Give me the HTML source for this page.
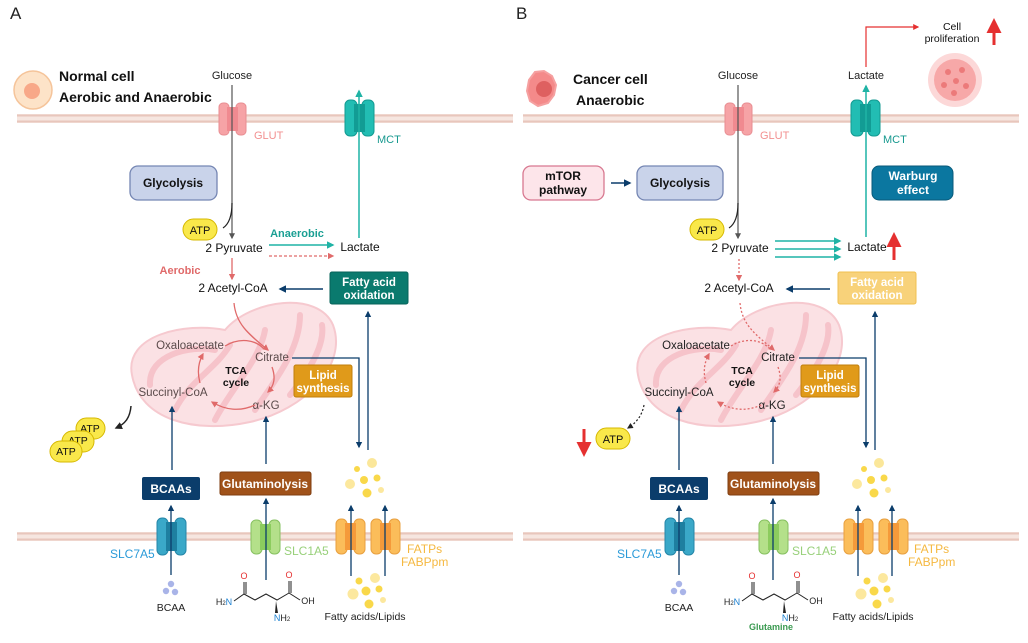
<!DOCTYPE html>
<html><head><meta charset="utf-8"><style>
html,body{margin:0;padding:0;background:#fff;}
svg{display:block;font-family:"Liberation Sans",sans-serif;}
</style></head><body>
<svg width="1028" height="643" viewBox="0 0 1028 643" xmlns="http://www.w3.org/2000/svg">
<defs>
<marker id="aN" viewBox="0 0 10 10" refX="8" refY="5" markerWidth="5" markerHeight="5" orient="auto"><path d="M0,0L10,5L0,10z" fill="#0b3d6b"/></marker>
<marker id="aG" viewBox="0 0 10 10" refX="8" refY="5" markerWidth="5" markerHeight="5" orient="auto"><path d="M0,0L10,5L0,10z" fill="#555"/></marker>
<marker id="aT" viewBox="0 0 10 10" refX="8" refY="5" markerWidth="5" markerHeight="5" orient="auto"><path d="M0,0L10,5L0,10z" fill="#1fb3a5"/></marker>
<marker id="aP" viewBox="0 0 10 10" refX="8" refY="5" markerWidth="5" markerHeight="5" orient="auto"><path d="M0,0L10,5L0,10z" fill="#e06a6a"/></marker>
<marker id="aK" viewBox="0 0 10 10" refX="8" refY="5" markerWidth="5" markerHeight="5" orient="auto"><path d="M0,0L10,5L0,10z" fill="#222"/></marker>
<marker id="aR" viewBox="0 0 10 10" refX="8" refY="5" markerWidth="5" markerHeight="5" orient="auto"><path d="M0,0L10,5L0,10z" fill="#e53030"/></marker>
</defs>

<!-- ================= PANEL A ================= -->
<text x="10" y="19" font-size="17" fill="#222">A</text>
<circle cx="33" cy="90" r="19" fill="#fde3c8" stroke="#f5c49a" stroke-width="1.5"/>
<circle cx="32" cy="91" r="8" fill="#f8a888"/>
<text x="59" y="81" font-size="14" font-weight="bold" fill="#111">Normal cell</text>
<text x="59" y="102" font-size="14" font-weight="bold" fill="#111">Aerobic and Anaerobic</text>
<text x="232" y="79" font-size="11" fill="#222" text-anchor="middle">Glucose</text>
<!-- membrane top -->
<rect x="17" y="114" width="496" height="9" fill="#f6e6e0"/>
<line x1="17" y1="115.5" x2="513" y2="115.5" stroke="#e8c6bc" stroke-width="2"/>
<line x1="17" y1="121.5" x2="513" y2="121.5" stroke="#e8c6bc" stroke-width="2"/>
<!-- GLUT -->
<rect x="219" y="103" width="10" height="32" rx="4" fill="#f6a3a6" stroke="#e88e92"/>
<rect x="236" y="103" width="10" height="32" rx="4" fill="#f6a3a6" stroke="#e88e92"/>
<rect x="227" y="107" width="11" height="24" fill="#f08a90"/>
<text x="254" y="139" font-size="11" fill="#f29090">GLUT</text>
<!-- MCT -->
<rect x="345" y="100" width="12" height="36" rx="5" fill="#22bdb3" stroke="#139a92"/>
<rect x="362" y="100" width="12" height="36" rx="5" fill="#22bdb3" stroke="#139a92"/>
<rect x="354" y="104" width="11" height="28" fill="#129c94"/>
<text x="377" y="143" font-size="11" fill="#17998f">MCT</text>
<line x1="359" y1="238" x2="359" y2="91" stroke="#1fb3a5" stroke-width="1.5" marker-end="url(#aT)"/>
<!-- glucose line -->
<line x1="232" y1="85" x2="232" y2="238" stroke="#555" stroke-width="1.2" marker-end="url(#aG)"/>
<path d="M232,203 Q232,222 223,228" fill="none" stroke="#222" stroke-width="1.2"/>
<rect x="130" y="166" width="87" height="34" rx="8" fill="#c9d3ea" stroke="#7586b3" stroke-width="1.3"/>
<text x="173" y="187" font-size="12" font-weight="bold" fill="#111" text-anchor="middle">Glycolysis</text>
<rect x="183" y="219" width="34" height="21" rx="10.5" fill="#f9e84a" stroke="#d6b800"/>
<text x="200" y="234" font-size="11" fill="#111" text-anchor="middle">ATP</text>
<text x="234" y="252" font-size="12" fill="#111" text-anchor="middle">2 Pyruvate</text>
<text x="297" y="237" font-size="11" font-weight="bold" fill="#1a9f93" text-anchor="middle">Anaerobic</text>
<line x1="269" y1="245" x2="333" y2="245" stroke="#1fb3a5" stroke-width="1.5" marker-end="url(#aT)"/>
<line x1="269" y1="256" x2="333" y2="256" stroke="#e06a6a" stroke-width="1.3" stroke-dasharray="3,2" marker-end="url(#aP)"/>
<text x="360" y="251" font-size="12" fill="#111" text-anchor="middle">Lactate</text>
<text x="180" y="274" font-size="11" font-weight="bold" fill="#e06a6a" text-anchor="middle">Aerobic</text>
<line x1="232" y1="258" x2="232" y2="279" stroke="#e06a6a" stroke-width="1.3" marker-end="url(#aP)"/>
<text x="233" y="292" font-size="12" fill="#111" text-anchor="middle">2 Acetyl-CoA</text>
<line x1="323" y1="289" x2="280" y2="289" stroke="#0b3d6b" stroke-width="1.5" marker-end="url(#aN)"/>
<rect x="330" y="272" width="78" height="32" rx="2" fill="#0a7a6e" stroke="#07635a"/>
<text x="369" y="286" font-size="11.5" font-weight="bold" fill="#fff" text-anchor="middle">Fatty acid</text>
<text x="369" y="299" font-size="11.5" font-weight="bold" fill="#fff" text-anchor="middle">oxidation</text>
<!-- mitochondrion -->
<path d="M132,375 C124,335 185,322 225,330 C250,300 318,290 333,325 C348,365 305,410 250,422 C195,434 140,420 132,375 Z" fill="#fbe1e4" stroke="#f6c9cf" stroke-width="2"/>
<path d="M150,385 C148,355 190,345 215,350 M175,410 C190,380 215,370 230,345 M215,420 C230,390 260,360 265,330 M255,410 C275,380 300,350 300,315 M290,395 C310,370 325,345 322,325" fill="none" stroke="#f6c3ca" stroke-width="6" stroke-linecap="round"/>
<path d="M234,303 C236,325 250,335 268,350" fill="none" stroke="#e06a6a" stroke-width="1.3" marker-end="url(#aP)"/>
<text x="190" y="349" font-size="11.5" fill="#664" text-anchor="middle" style="fill:#5a4a4a">Oxaloacetate</text>
<text x="272" y="361" font-size="11.5" fill="#5a4a4a" text-anchor="middle">Citrate</text>
<text x="236" y="374" font-size="10.5" font-weight="bold" fill="#111" text-anchor="middle">TCA</text>
<text x="236" y="386" font-size="10.5" font-weight="bold" fill="#111" text-anchor="middle">cycle</text>
<text x="173" y="396" font-size="11.5" fill="#5a4a4a" text-anchor="middle">Succinyl-CoA</text>
<text x="266" y="409" font-size="11.5" fill="#5a4a4a" text-anchor="middle">α-KG</text>
<path d="M272,367 C276,378 274,386 268,392" fill="none" stroke="#e06a6a" stroke-width="1.3" marker-end="url(#aP)"/>
<path d="M255,405 C240,412 225,410 212,402" fill="none" stroke="#e06a6a" stroke-width="1.3" marker-end="url(#aP)"/>
<path d="M200,383 C197,372 198,363 203,354" fill="none" stroke="#e06a6a" stroke-width="1.3" marker-end="url(#aP)"/>
<path d="M225,346 C240,337 255,340 263,348" fill="none" stroke="#e06a6a" stroke-width="1.3"/>
<rect x="294" y="365" width="58" height="32" rx="2" fill="#e09a1a" stroke="#c07f0c"/>
<text x="323" y="379" font-size="11.5" font-weight="bold" fill="#fff" text-anchor="middle">Lipid</text>
<text x="323" y="392" font-size="11.5" font-weight="bold" fill="#fff" text-anchor="middle">synthesis</text>
<polyline points="292,358 359,358 359,447" fill="none" stroke="#0b3d6b" stroke-width="1.3" marker-end="url(#aN)"/>
<line x1="368" y1="450" x2="368" y2="312" stroke="#0b3d6b" stroke-width="1.3" marker-end="url(#aN)"/>
<!-- ATP stack -->
<path d="M131,406 C130,418 125,424 116,428" fill="none" stroke="#222" stroke-width="1.5" marker-end="url(#aK)"/>
<rect x="76" y="418" width="29" height="21" rx="10.5" fill="#f9e84a" stroke="#d6b800"/>
<text x="90" y="432" font-size="10.5" fill="#111" text-anchor="middle">ATP</text>
<rect x="62" y="431" width="32" height="21" rx="10.5" fill="#f9e84a" stroke="#d6b800"/>
<text x="78" y="444" font-size="10.5" fill="#111" text-anchor="middle">ATP</text>
<rect x="50" y="441" width="32" height="21" rx="10.5" fill="#f9e84a" stroke="#d6b800"/>
<text x="66" y="455" font-size="10.5" fill="#111" text-anchor="middle">ATP</text>
<!-- bottom -->
<line x1="172" y1="470" x2="172" y2="407" stroke="#0b3d6b" stroke-width="1.3" marker-end="url(#aN)"/>
<rect x="142" y="477" width="58" height="23" rx="2" fill="#0b3d6b"/>
<text x="171" y="493" font-size="12" font-weight="bold" fill="#fff" text-anchor="middle">BCAAs</text>
<line x1="266" y1="464" x2="266" y2="417" stroke="#0b3d6b" stroke-width="1.3" marker-end="url(#aN)"/>
<rect x="220" y="472" width="91" height="23" rx="2" fill="#a0521a" stroke="#7f3e10"/>
<text x="265" y="488" font-size="12" font-weight="bold" fill="#fff" text-anchor="middle">Glutaminolysis</text>
<g fill="#f9d84a"><circle cx="357" cy="469" r="3"/><circle cx="372" cy="463" r="5" fill="#fbe79a"/><circle cx="364" cy="480" r="4"/><circle cx="377" cy="478" r="3.5"/><circle cx="350" cy="484" r="5" fill="#fce89e"/><circle cx="367" cy="493" r="4.5"/><circle cx="381" cy="490" r="3" fill="#fce89e"/></g>
<rect x="17" y="532" width="496" height="9" fill="#f6e6e0"/>
<line x1="17" y1="533.5" x2="513" y2="533.5" stroke="#e8c6bc" stroke-width="2"/>
<line x1="17" y1="539.5" x2="513" y2="539.5" stroke="#e8c6bc" stroke-width="2"/>
<rect x="157" y="518" width="11" height="37" rx="5" fill="#3aa8c8" stroke="#2586a8"/>
<rect x="175" y="518" width="11" height="37" rx="5" fill="#3aa8c8" stroke="#2586a8"/>
<rect x="166" y="522" width="11" height="29" fill="#1e7fa0"/>
<text x="110" y="558" font-size="12" fill="#2a9ad8">SLC7A5</text>
<rect x="251" y="520" width="11" height="34" rx="5" fill="#b4e08a" stroke="#86c060"/>
<rect x="269" y="520" width="11" height="34" rx="5" fill="#b4e08a" stroke="#86c060"/>
<rect x="260" y="524" width="11" height="26" fill="#8ccc5e"/>
<text x="284" y="555" font-size="12" fill="#98d07a">SLC1A5</text>
<rect x="336" y="519" width="11" height="35" rx="5" fill="#fbbd5a" stroke="#e8a040"/>
<rect x="354" y="519" width="11" height="35" rx="5" fill="#fbbd5a" stroke="#e8a040"/>
<rect x="345" y="523" width="11" height="27" fill="#f59a3a"/>
<rect x="371" y="519" width="11" height="35" rx="5" fill="#fbbd5a" stroke="#e8a040"/>
<rect x="389" y="519" width="11" height="35" rx="5" fill="#fbbd5a" stroke="#e8a040"/>
<rect x="380" y="523" width="11" height="27" fill="#f59a3a"/>
<text x="407" y="553" font-size="12" fill="#f5b840">FATPs</text>
<text x="401" y="566" font-size="12" fill="#f5b840">FABPpm</text>
<line x1="171" y1="575" x2="171" y2="506" stroke="#0b3d6b" stroke-width="1.3" marker-end="url(#aN)"/>
<line x1="266" y1="580" x2="266" y2="499" stroke="#0b3d6b" stroke-width="1.3" marker-end="url(#aN)"/>
<line x1="351" y1="576" x2="351" y2="506" stroke="#0b3d6b" stroke-width="1.3" marker-end="url(#aN)"/>
<line x1="385" y1="576" x2="385" y2="506" stroke="#0b3d6b" stroke-width="1.3" marker-end="url(#aN)"/>
<g fill="#a9b4e8"><circle cx="171" cy="584" r="3.2"/><circle cx="166" cy="591" r="3.2"/><circle cx="175" cy="592" r="3.2"/></g>
<text x="171" y="611" font-size="10.5" fill="#222" text-anchor="middle">BCAA</text>
<g fill="#f9d84a"><circle cx="359" cy="581" r="3.5"/><circle cx="375" cy="578" r="5" fill="#fce89e"/><circle cx="366" cy="591" r="4.5"/><circle cx="379" cy="589" r="3.5"/><circle cx="353" cy="594" r="5.5" fill="#fce89e"/><circle cx="369" cy="604" r="4.5"/><circle cx="383" cy="600" r="3" fill="#fce89e"/></g>
<text x="365" y="620" font-size="10.5" fill="#222" text-anchor="middle">Fatty acids/Lipids</text>
<!-- glutamine structure A -->
<g fill="none" stroke="#222" stroke-width="1"><polyline points="234,601 244,594 255,600 266,594 277,600 289,593"/><line x1="244" y1="594" x2="244" y2="582"/><line x1="246" y1="594" x2="246" y2="582"/><line x1="289" y1="593" x2="289" y2="581"/><line x1="291" y1="593" x2="291" y2="581"/><line x1="289" y1="593" x2="300" y2="600"/></g>
<path d="M276,601 L278,613 L275,613 Z" fill="#222"/>
<text x="244" y="579" font-size="9" fill="#e53030" text-anchor="middle">O</text>
<text x="289" y="578" font-size="9" fill="#e53030" text-anchor="middle">O</text>
<text x="224" y="605" font-size="9" fill="#222" text-anchor="middle">H<tspan font-size="6">2</tspan><tspan fill="#1a7fd0">N</tspan></text>
<text x="308" y="604" font-size="9" fill="#222" text-anchor="middle">OH</text>
<text x="282" y="621" font-size="9" fill="#222" text-anchor="middle"><tspan fill="#1a7fd0">N</tspan>H<tspan font-size="6">2</tspan></text>

<!-- ================= PANEL B ================= -->
<text x="516" y="19" font-size="17" fill="#222">B</text>
<path d="M529,80 L535,72 L544,71 L552,76 L556,85 L554,95 L548,103 L538,106 L530,101 L527,91 Z" fill="#f48a8a" stroke="#f5a0a0" stroke-width="2"/>
<circle cx="544" cy="89" r="8" fill="#de6060"/>
<text x="573" y="84" font-size="14" font-weight="bold" fill="#111">Cancer cell</text>
<text x="576" y="105" font-size="14" font-weight="bold" fill="#111">Anaerobic</text>
<text x="738" y="79" font-size="11" fill="#222" text-anchor="middle">Glucose</text>
<text x="866" y="79" font-size="11" fill="#222" text-anchor="middle">Lactate</text>
<polyline points="866,67 866,27 918,27" fill="none" stroke="#e53030" stroke-width="1.2" marker-end="url(#aR)"/>
<text x="952" y="30" font-size="10.5" fill="#111" text-anchor="middle">Cell</text>
<text x="952" y="42" font-size="10.5" fill="#111" text-anchor="middle">proliferation</text>
<line x1="994" y1="45" x2="994" y2="21" stroke="#e53030" stroke-width="3" marker-end="url(#aR)"/>
<circle cx="955" cy="80" r="27" fill="#fbc8c8" opacity="0.7"/>
<circle cx="955" cy="80" r="21" fill="#f7a8a8"/>
<g fill="#ec7a7a"><circle cx="948" cy="72" r="3"/><circle cx="962" cy="70" r="3"/><circle cx="956" cy="81" r="3"/><circle cx="944" cy="85" r="3"/><circle cx="966" cy="86" r="3"/><circle cx="954" cy="93" r="3"/></g>
<rect x="523" y="114" width="496" height="9" fill="#f6e6e0"/>
<line x1="523" y1="115.5" x2="1019" y2="115.5" stroke="#e8c6bc" stroke-width="2"/>
<line x1="523" y1="121.5" x2="1019" y2="121.5" stroke="#e8c6bc" stroke-width="2"/>
<rect x="725" y="103" width="10" height="32" rx="4" fill="#f6a3a6" stroke="#e88e92"/>
<rect x="742" y="103" width="10" height="32" rx="4" fill="#f6a3a6" stroke="#e88e92"/>
<rect x="733" y="107" width="11" height="24" fill="#f08a90"/>
<text x="760" y="139" font-size="11" fill="#f29090">GLUT</text>
<rect x="851" y="100" width="12" height="36" rx="5" fill="#22bdb3" stroke="#139a92"/>
<rect x="868" y="100" width="12" height="36" rx="5" fill="#22bdb3" stroke="#139a92"/>
<rect x="860" y="104" width="11" height="28" fill="#129c94"/>
<text x="883" y="143" font-size="11" fill="#17998f">MCT</text>
<line x1="866" y1="237" x2="866" y2="86" stroke="#1fb3a5" stroke-width="1.5" marker-end="url(#aT)"/>
<line x1="738" y1="85" x2="738" y2="238" stroke="#555" stroke-width="1.2" marker-end="url(#aG)"/>
<path d="M738,203 Q738,222 729,228" fill="none" stroke="#222" stroke-width="1.2"/>
<rect x="523" y="166" width="81" height="34" rx="8" fill="#fde5ea" stroke="#d87890" stroke-width="1.3"/>
<text x="563" y="180" font-size="12" font-weight="bold" fill="#111" text-anchor="middle">mTOR</text>
<text x="563" y="194" font-size="12" font-weight="bold" fill="#111" text-anchor="middle">pathway</text>
<line x1="611" y1="183" x2="630" y2="183" stroke="#0b3d6b" stroke-width="1.5" marker-end="url(#aN)"/>
<rect x="637" y="166" width="86" height="34" rx="8" fill="#c9d3ea" stroke="#7586b3" stroke-width="1.3"/>
<text x="680" y="187" font-size="12" font-weight="bold" fill="#111" text-anchor="middle">Glycolysis</text>
<rect x="872" y="166" width="81" height="34" rx="7" fill="#0b77a0" stroke="#085a7a"/>
<text x="913" y="180" font-size="12" font-weight="bold" fill="#fff" text-anchor="middle">Warburg</text>
<text x="913" y="194" font-size="12" font-weight="bold" fill="#fff" text-anchor="middle">effect</text>
<rect x="690" y="219" width="34" height="21" rx="10.5" fill="#f9e84a" stroke="#d6b800"/>
<text x="707" y="234" font-size="11" fill="#111" text-anchor="middle">ATP</text>
<text x="740" y="252" font-size="12" fill="#111" text-anchor="middle">2 Pyruvate</text>
<line x1="775" y1="241" x2="840" y2="241" stroke="#1fb3a5" stroke-width="1.5" marker-end="url(#aT)"/>
<line x1="775" y1="249" x2="840" y2="249" stroke="#1fb3a5" stroke-width="1.5" marker-end="url(#aT)"/>
<line x1="775" y1="257" x2="840" y2="257" stroke="#1fb3a5" stroke-width="1.5" marker-end="url(#aT)"/>
<text x="867" y="251" font-size="12" fill="#111" text-anchor="middle">Lactate</text>
<line x1="894" y1="260" x2="894" y2="235" stroke="#e53030" stroke-width="3" marker-end="url(#aR)"/>
<line x1="739" y1="259" x2="739" y2="280" stroke="#e06a6a" stroke-width="1.3" stroke-dasharray="2,2" marker-end="url(#aP)"/>
<text x="739" y="292" font-size="12" fill="#111" text-anchor="middle">2 Acetyl-CoA</text>
<line x1="830" y1="289" x2="787" y2="289" stroke="#0b3d6b" stroke-width="1.5" marker-end="url(#aN)"/>
<rect x="838" y="272" width="78" height="32" rx="2" fill="#f8d27a" stroke="#f0c050"/>
<text x="877" y="286" font-size="11.5" font-weight="bold" fill="#fff" text-anchor="middle">Fatty acid</text>
<text x="877" y="299" font-size="11.5" font-weight="bold" fill="#fff" text-anchor="middle">oxidation</text>
<path d="M638,375 C630,335 691,322 731,330 C756,300 824,290 839,325 C854,365 811,410 756,422 C701,434 646,420 638,375 Z" fill="#fbe1e4" stroke="#f6c9cf" stroke-width="2"/>
<path d="M656,385 C654,355 696,345 721,350 M681,410 C696,380 721,370 736,345 M721,420 C736,390 766,360 771,330 M761,410 C781,380 806,350 806,315 M796,395 C816,370 831,345 828,325" fill="none" stroke="#f6c3ca" stroke-width="6" stroke-linecap="round"/>
<path d="M740,303 C742,325 756,335 774,350" fill="none" stroke="#e06a6a" stroke-width="1.3" stroke-dasharray="2,2" marker-end="url(#aP)"/>
<text x="696" y="349" font-size="11.5" fill="#222" text-anchor="middle">Oxaloacetate</text>
<text x="778" y="361" font-size="11.5" fill="#222" text-anchor="middle">Citrate</text>
<text x="742" y="374" font-size="10.5" font-weight="bold" fill="#111" text-anchor="middle">TCA</text>
<text x="742" y="386" font-size="10.5" font-weight="bold" fill="#111" text-anchor="middle">cycle</text>
<text x="679" y="396" font-size="11.5" fill="#222" text-anchor="middle">Succinyl-CoA</text>
<text x="772" y="409" font-size="11.5" fill="#222" text-anchor="middle">α-KG</text>
<g stroke-dasharray="2,2"><path d="M778,367 C782,378 780,386 774,392" fill="none" stroke="#e06a6a" stroke-width="1.3" marker-end="url(#aP)"/>
<path d="M761,405 C746,412 731,410 718,402" fill="none" stroke="#e06a6a" stroke-width="1.3" marker-end="url(#aP)"/>
<path d="M706,383 C703,372 704,363 709,354" fill="none" stroke="#e06a6a" stroke-width="1.3" marker-end="url(#aP)"/>
<path d="M731,346 C746,337 761,340 769,348" fill="none" stroke="#e06a6a" stroke-width="1.3"/></g>
<rect x="801" y="365" width="58" height="32" rx="2" fill="#e09a1a" stroke="#c07f0c"/>
<text x="830" y="379" font-size="11.5" font-weight="bold" fill="#fff" text-anchor="middle">Lipid</text>
<text x="830" y="392" font-size="11.5" font-weight="bold" fill="#fff" text-anchor="middle">synthesis</text>
<polyline points="799,358 866,358 866,447" fill="none" stroke="#0b3d6b" stroke-width="1.3" marker-end="url(#aN)"/>
<line x1="875" y1="450" x2="875" y2="312" stroke="#0b3d6b" stroke-width="1.3" marker-end="url(#aN)"/>
<path d="M644,405 C642,416 636,423 628,428" fill="none" stroke="#222" stroke-width="1.2" stroke-dasharray="2,2" marker-end="url(#aK)"/>
<rect x="596" y="428" width="34" height="21" rx="10.5" fill="#f9e84a" stroke="#d6b800"/>
<text x="613" y="443" font-size="11" fill="#111" text-anchor="middle">ATP</text>
<line x1="584" y1="429" x2="584" y2="454" stroke="#e53030" stroke-width="3" marker-end="url(#aR)"/>
<line x1="679" y1="470" x2="679" y2="407" stroke="#0b3d6b" stroke-width="1.3" marker-end="url(#aN)"/>
<rect x="650" y="477" width="58" height="23" rx="2" fill="#0b3d6b"/>
<text x="679" y="493" font-size="12" font-weight="bold" fill="#fff" text-anchor="middle">BCAAs</text>
<line x1="773" y1="464" x2="773" y2="417" stroke="#0b3d6b" stroke-width="1.3" marker-end="url(#aN)"/>
<rect x="728" y="472" width="91" height="23" rx="2" fill="#a0521a" stroke="#7f3e10"/>
<text x="773" y="488" font-size="12" font-weight="bold" fill="#fff" text-anchor="middle">Glutaminolysis</text>
<g fill="#f9d84a"><circle cx="864" cy="469" r="3"/><circle cx="879" cy="463" r="5" fill="#fbe79a"/><circle cx="871" cy="480" r="4"/><circle cx="884" cy="478" r="3.5"/><circle cx="857" cy="484" r="5" fill="#fce89e"/><circle cx="874" cy="493" r="4.5"/><circle cx="888" cy="490" r="3" fill="#fce89e"/></g>
<rect x="523" y="532" width="496" height="9" fill="#f6e6e0"/>
<line x1="523" y1="533.5" x2="1019" y2="533.5" stroke="#e8c6bc" stroke-width="2"/>
<line x1="523" y1="539.5" x2="1019" y2="539.5" stroke="#e8c6bc" stroke-width="2"/>
<rect x="665" y="518" width="11" height="37" rx="5" fill="#3aa8c8" stroke="#2586a8"/>
<rect x="683" y="518" width="11" height="37" rx="5" fill="#3aa8c8" stroke="#2586a8"/>
<rect x="674" y="522" width="11" height="29" fill="#1e7fa0"/>
<text x="617" y="558" font-size="12" fill="#2a9ad8">SLC7A5</text>
<rect x="759" y="520" width="11" height="34" rx="5" fill="#b4e08a" stroke="#86c060"/>
<rect x="777" y="520" width="11" height="34" rx="5" fill="#b4e08a" stroke="#86c060"/>
<rect x="768" y="524" width="11" height="26" fill="#8ccc5e"/>
<text x="792" y="555" font-size="12" fill="#98d07a">SLC1A5</text>
<rect x="844" y="519" width="11" height="35" rx="5" fill="#fbbd5a" stroke="#e8a040"/>
<rect x="862" y="519" width="11" height="35" rx="5" fill="#fbbd5a" stroke="#e8a040"/>
<rect x="853" y="523" width="11" height="27" fill="#f59a3a"/>
<rect x="879" y="519" width="11" height="35" rx="5" fill="#fbbd5a" stroke="#e8a040"/>
<rect x="897" y="519" width="11" height="35" rx="5" fill="#fbbd5a" stroke="#e8a040"/>
<rect x="888" y="523" width="11" height="27" fill="#f59a3a"/>
<text x="914" y="553" font-size="12" fill="#f5b840">FATPs</text>
<text x="908" y="566" font-size="12" fill="#f5b840">FABPpm</text>
<line x1="679" y1="575" x2="679" y2="506" stroke="#0b3d6b" stroke-width="1.3" marker-end="url(#aN)"/>
<line x1="773" y1="580" x2="773" y2="499" stroke="#0b3d6b" stroke-width="1.3" marker-end="url(#aN)"/>
<line x1="858" y1="576" x2="858" y2="506" stroke="#0b3d6b" stroke-width="1.3" marker-end="url(#aN)"/>
<line x1="892" y1="576" x2="892" y2="506" stroke="#0b3d6b" stroke-width="1.3" marker-end="url(#aN)"/>
<g fill="#a9b4e8"><circle cx="679" cy="584" r="3.2"/><circle cx="674" cy="591" r="3.2"/><circle cx="683" cy="592" r="3.2"/></g>
<text x="679" y="611" font-size="10.5" fill="#222" text-anchor="middle">BCAA</text>
<g fill="#f9d84a"><circle cx="867" cy="581" r="3.5"/><circle cx="883" cy="578" r="5" fill="#fce89e"/><circle cx="874" cy="591" r="4.5"/><circle cx="887" cy="589" r="3.5"/><circle cx="861" cy="594" r="5.5" fill="#fce89e"/><circle cx="877" cy="604" r="4.5"/><circle cx="891" cy="600" r="3" fill="#fce89e"/></g>
<text x="873" y="620" font-size="10.5" fill="#222" text-anchor="middle">Fatty acids/Lipids</text>
<g fill="none" stroke="#222" stroke-width="1"><polyline points="742,601 752,594 763,600 774,594 785,600 797,593"/><line x1="752" y1="594" x2="752" y2="582"/><line x1="754" y1="594" x2="754" y2="582"/><line x1="797" y1="593" x2="797" y2="581"/><line x1="799" y1="593" x2="799" y2="581"/><line x1="797" y1="593" x2="808" y2="600"/></g>
<path d="M784,601 L786,613 L783,613 Z" fill="#222"/>
<text x="752" y="579" font-size="9" fill="#e53030" text-anchor="middle">O</text>
<text x="797" y="578" font-size="9" fill="#e53030" text-anchor="middle">O</text>
<text x="732" y="605" font-size="9" fill="#222" text-anchor="middle">H<tspan font-size="6">2</tspan><tspan fill="#1a7fd0">N</tspan></text>
<text x="816" y="604" font-size="9" fill="#222" text-anchor="middle">OH</text>
<text x="790" y="621" font-size="9" fill="#222" text-anchor="middle"><tspan fill="#1a7fd0">N</tspan>H<tspan font-size="6">2</tspan></text>
<text x="771" y="630" font-size="9" font-weight="bold" fill="#3a9a50" text-anchor="middle">Glutamine</text>
</svg>
</body></html>
